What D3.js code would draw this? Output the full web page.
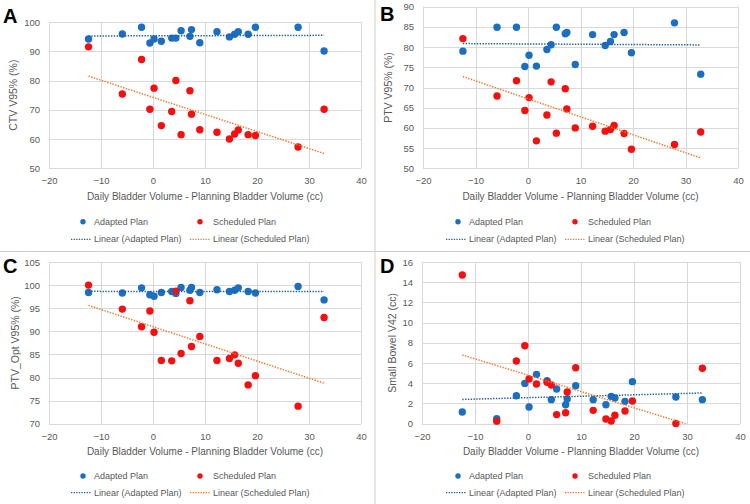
<!DOCTYPE html>
<html>
<head>
<meta charset="utf-8">
<script src="https://cdn.jsdelivr.net/npm/d3@7"></script>
<style>
  html, body { margin: 0; padding: 0; background: #ffffff; }
  svg { display: block; }
  text { font-family: "Liberation Sans", Arial, sans-serif; }
</style>
</head>
<body>
<svg id="chart" width="750" height="504"></svg>
<script>
// ---------------- DATA ----------------
const bladderDiff = [-12.4, -5.9, -2.2, -0.6, 0.2, 1.6, 3.6, 4.4, 5.4, 7.1, 7.4, 9.0, 12.3, 14.7, 15.7, 16.4, 18.3, 19.7, 27.9, 32.9];

const ctvAdapted   = [94.2, 95.9, 98.2, 92.8, 94.2, 93.4, 94.5, 94.5, 97.0, 95.1, 97.4, 92.9, 96.7, 94.9, 95.8, 96.7, 95.8, 98.2, 98.2, 90.1];
const ctvScheduled = [91.5, 75.4, 87.2, 70.2, 77.4, 64.6, 69.4, 80.0, 61.5, 76.5, 68.5, 63.2, 62.3, 60.0, 61.7, 63.1, 61.5, 61.2, 57.3, 70.2];

const ptvAdapted   = [79.0, 84.9, 84.9, 75.2, 78.0, 75.3, 79.4, 80.6, 84.9, 83.3, 83.6, 75.7, 83.1, 80.4, 81.4, 83.1, 83.6, 78.6, 86.0, 73.3];
const ptvScheduled = [82.1, 67.9, 71.7, 64.3, 67.5, 56.8, 63.2, 71.4, 58.7, 69.7, 64.7, 60.0, 60.4, 59.2, 59.6, 60.6, 58.6, 54.7, 55.9, 59.0];

const ptvOptAdapted   = [98.4, 98.3, 99.4, 97.9, 97.6, 98.4, 98.6, 98.2, 99.5, 98.9, 99.5, 98.4, 99.0, 98.6, 98.9, 99.4, 98.6, 98.3, 99.7, 96.8];
const ptvOptScheduled = [100.0, 94.8, 91.0, 94.4, 89.8, 83.7, 83.6, 98.7, 85.2, 96.6, 86.7, 88.9, 83.7, 84.1, 84.9, 83.1, 78.4, 80.4, 73.8, 93.0];

const bowelAdapted   = [1.16, 0.5, 2.77, 3.99, 1.65, 4.88, 4.26, 2.38, 3.43, 1.88, 2.44, 3.76, 2.38, 1.88, 2.7, 2.54, 2.21, 4.16, 2.64, 2.38];
const bowelScheduled = [14.72, 0.25, 6.2, 7.72, 4.42, 3.93, 4.09, 3.83, 0.9, 1.09, 3.14, 5.54, 1.32, 0.46, 0.26, 0.83, 1.25, 2.24, 0.03, 5.48];

const xTicks      = [-20, -10, 0, 10, 20, 30, 40];
const ctvTicks    = [50, 60, 70, 80, 90, 100];
const ptvTicks    = [50, 55, 60, 65, 70, 75, 80, 85, 90];
const ptvOptTicks = [70, 75, 80, 85, 90, 95, 100, 105];
const bowelTicks  = [0, 2, 4, 6, 8, 10, 12, 14, 16];

const xTitle = "Daily Bladder Volume - Planning Bladder Volume (cc)";
const seriesNames = ["Adapted Plan", "Scheduled Plan"];
const trendNames  = ["Linear (Adapted Plan)", "Linear (Scheduled Plan)"];

// ---------------- STYLE ----------------
const blue = "#1b6ec2", red = "#f50f0f";
const blueTrend = "#1f5f9c", orangeTrend = "#f07a30";
const gridCol = "#d9d9d9", textCol = "#595959";

const panels = [
  {letter: "A", lx: 3, ly: 23, ox: 0, oy: 0, left: 49, right: 361, top: 22, bottom: 168.3,
   ticks: ctvTicks, yTitle: "CTV V95% (%)", ytx: 13, a: ctvAdapted, s: ctvScheduled,
   titleY: 196.7, leg1: 221.7, leg2: 239.3},
  {letter: "B", lx: 380, ly: 21, ox: 375, oy: 0, left: 423, right: 738, top: 6.7, bottom: 168.3,
   ticks: ptvTicks, yTitle: "PTV V95% (%)", ytx: 388, a: ptvAdapted, s: ptvScheduled,
   titleY: 196.7, leg1: 221.7, leg2: 239.3},
  {letter: "C", lx: 3, ly: 273, ox: 0, oy: 252, left: 49, right: 361, top: 262, bottom: 423.7,
   ticks: ptvOptTicks, yTitle: "PTV_Opt V95% (%)", ytx: 15, a: ptvOptAdapted, s: ptvOptScheduled,
   titleY: 451.7, leg1: 476, leg2: 492.7},
  {letter: "D", lx: 380, ly: 273, ox: 375, oy: 252, left: 422, right: 740, top: 262, bottom: 423.7,
   ticks: bowelTicks, yTitle: "Small Bowel V42 (cc)", ytx: 392, a: bowelAdapted, s: bowelScheduled,
   titleY: 451.7, leg1: 476, leg2: 492.7}
];

const svg = d3.select("#chart");
svg.append("rect").attr("width", 750).attr("height", 504).attr("fill", "#fff");

// panel separators
svg.append("line").attr("x1", 375).attr("x2", 375).attr("y1", 0).attr("y2", 504)
   .attr("stroke", "#cfcfcf").attr("stroke-width", 1);
svg.append("line").attr("x1", 0).attr("x2", 750).attr("y1", 251.5).attr("y2", 251.5)
   .attr("stroke", "#cfcfcf").attr("stroke-width", 1);

function linReg(xs, ys) {
  const n = xs.length;
  const mx = d3.mean(xs), my = d3.mean(ys);
  let sxy = 0, sxx = 0;
  for (let i = 0; i < n; i++) { sxy += (xs[i] - mx) * (ys[i] - my); sxx += (xs[i] - mx) ** 2; }
  const b = sxy / sxx;
  return x => my + b * (x - mx);
}

panels.forEach((p, pi) => {
  const g = svg.append("g");
  const yDom = d3.extent(p.ticks);
  const x = d3.scaleLinear().domain([xTicks[0], xTicks[xTicks.length - 1]]).range([p.left, p.right]);
  const y = d3.scaleLinear().domain(yDom).range([p.bottom, p.top]);

  // gridlines
  g.append("g").selectAll("line").data(p.ticks).join("line")
    .attr("x1", p.left).attr("x2", p.right)
    .attr("y1", d => Math.round(y(d)) + 0.5).attr("y2", d => Math.round(y(d)) + 0.5)
    .attr("stroke", gridCol).attr("stroke-width", 1);
  g.append("g").selectAll("line").data(xTicks).join("line")
    .attr("x1", d => Math.round(x(d)) + 0.5).attr("x2", d => Math.round(x(d)) + 0.5)
    .attr("y1", p.top).attr("y2", p.bottom)
    .attr("stroke", gridCol).attr("stroke-width", 1);

  // axes (labels only, via d3 axis)
  const yAxis = g.append("g").attr("transform", `translate(${p.left},0)`)
    .call(d3.axisLeft(y).tickValues(p.ticks).tickSize(0).tickPadding(9));
  const xAxis = g.append("g").attr("transform", `translate(0,${p.bottom})`)
    .call(d3.axisBottom(x).tickValues(xTicks).tickSize(0).tickPadding(9));
  [yAxis, xAxis].forEach(ax => {
    ax.select(".domain").remove();
    ax.selectAll("text").attr("fill", textCol).attr("font-size", 9.5)
      .attr("font-family", "'Liberation Sans', Arial, sans-serif");
  });
  xAxis.selectAll("text").attr("dy", "0.32em").attr("y", 13);

  // titles
  g.append("text").attr("x", (p.left + p.right) / 2).attr("y", p.titleY)
    .attr("text-anchor", "middle").attr("dominant-baseline", "central")
    .attr("fill", textCol).attr("font-size", 10).text(xTitle);
  g.append("text")
    .attr("transform", `translate(${p.ytx},${(p.top + p.bottom) / 2}) rotate(-90)`)
    .attr("text-anchor", "middle").attr("dominant-baseline", "central")
    .attr("fill", textCol).attr("font-size", 10.5).text(p.yTitle);
  g.append("text").attr("x", p.lx).attr("y", p.ly)
    .attr("font-size", 20).attr("font-weight", "bold").attr("fill", "#000")
    .text(p.letter);

  // clip for trendlines
  const clipId = "clip" + pi;
  svg.append("clipPath").attr("id", clipId).append("rect")
    .attr("x", p.left).attr("y", p.top).attr("width", p.right - p.left).attr("height", p.bottom - p.top);

  const xMin = d3.min(bladderDiff), xMax = d3.max(bladderDiff);

  // points
  const sets = [{ys: p.a, col: blue}, {ys: p.s, col: red}];
  sets.forEach(st => {
    g.append("g").selectAll("circle").data(bladderDiff).join("circle")
      .attr("cx", d => x(d)).attr("cy", (d, i) => y(st.ys[i]))
      .attr("r", 3.7).attr("fill", st.col);
  });

  // trendlines
  const trends = [{ys: p.a, col: blueTrend}, {ys: p.s, col: orangeTrend}];
  trends.forEach(t => {
    const f = linReg(bladderDiff, t.ys);
    g.append("line").attr("clip-path", `url(#${clipId})`)
      .attr("x1", x(xMin)).attr("y1", y(f(xMin)))
      .attr("x2", x(xMax)).attr("y2", y(f(xMax)))
      .attr("stroke", t.col).attr("stroke-width", 1.5)
      .attr("stroke-dasharray", "1.4,1.4");
  });

  // legend
  const L = g.append("g").attr("transform", `translate(${p.ox},0)`);
  const legCols = [{m: 83, t: 94}, {m: 200, t: 213}];
  [blue, red].forEach((c, i) => {
    L.append("circle").attr("cx", legCols[i].m).attr("cy", p.leg1).attr("r", 2.7).attr("fill", c);
    L.append("text").attr("x", legCols[i].t).attr("y", p.leg1).attr("dominant-baseline", "central")
      .attr("font-size", 9).attr("fill", textCol).text(seriesNames[i]);
  });
  const lineCols = [{x1: 71, x2: 91, t: 94}, {x1: 190, x2: 210, t: 213}];
  [blueTrend, orangeTrend].forEach((c, i) => {
    L.append("line").attr("x1", lineCols[i].x1).attr("x2", lineCols[i].x2)
      .attr("y1", p.leg2).attr("y2", p.leg2).attr("stroke", c).attr("stroke-width", 1.3)
      .attr("stroke-dasharray", "1.3,1.3");
    L.append("text").attr("x", lineCols[i].t).attr("y", p.leg2).attr("dominant-baseline", "central")
      .attr("font-size", 9).attr("fill", textCol).text(trendNames[i]);
  });
});
</script>
</body>
</html>
